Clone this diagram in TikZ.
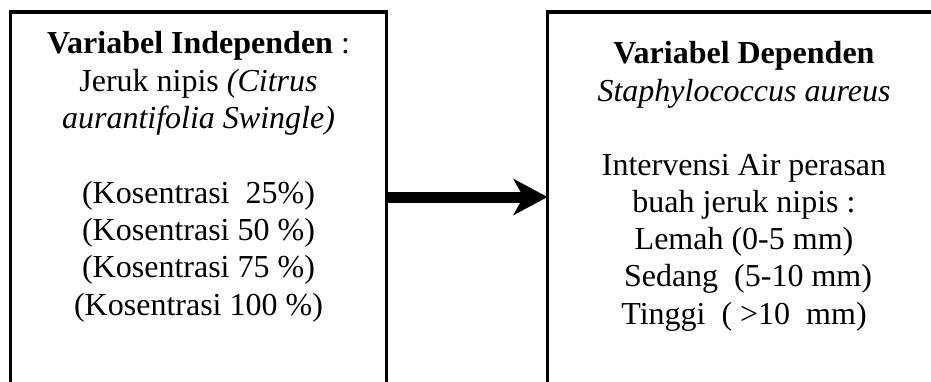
\documentclass[tikz,border=0pt]{standalone}
\usepackage{fontspec}
\setmainfont{Liberation Serif}
\usetikzlibrary{positioning,arrows.meta}
\tikzset{
    varbox/.style={draw, line width=3.5pt, rectangle, outer sep=0pt, anchor=north west, minimum height=500pt},
    vartext/.style={align=center, inner sep=0pt, font=\fontsize{32}{37.3}\selectfont},
}
\begin{document}
\begin{tikzpicture}[x=1pt,y=-1pt]
                \clip (0,0) rectangle (931,381);
                \node[varbox, minimum width=376pt] (lbox) at (10.5,12) {};
                \node[varbox, minimum width=393pt] (rbox) at (547.5,12) {};
                \node[vartext, below=19.5pt of lbox.north] (ltext) {\textbf{Variabel Independen} :\\
                    Jeruk nipis \textit{(Citrus}\\
                    \textit{aurantifolia Swingle)}\\[37.3pt]
                    (Kosentrasi~~25\%)\\
                    (Kosentrasi 50~\%)\\
                    (Kosentrasi 75~\%)\\
                    (Kosentrasi 100~\%)};
                \node[vartext, below=29.5pt of rbox.north] (rtext) {\textbf{Variabel Dependen}\\
                    \textit{Staphylococcus aureus}\\[36.5pt]
                    Intervensi Air perasan\\
                    buah jeruk nipis :\\
                    Lemah (0-5 mm)\\
                    ~Sedang~~(5-10 mm)\\
                    Tinggi~~( >10~~mm)};
                \coordinate (mid) at (0,197);
                \draw[-{Stealth[length=34pt, width=36pt, inset=10pt]}, line width=11pt] (lbox.east |- mid) -- (rbox.west |- mid);
            \end{tikzpicture}
\end{document}
